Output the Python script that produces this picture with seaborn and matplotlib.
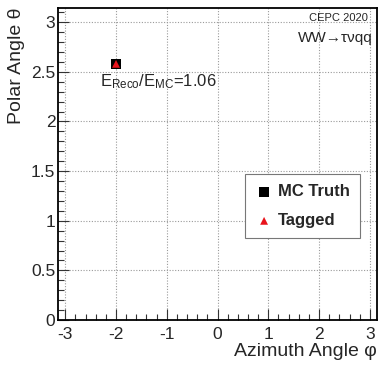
import numpy as np
import pandas as pd
import matplotlib
matplotlib.use("Agg")
import matplotlib.pyplot as plt
from matplotlib.ticker import MultipleLocator, FuncFormatter
import seaborn as sns

# Reconstructed tau direction: azimuth phi, polar theta
mc_phi = [-2.0]
mc_theta = [2.58]
tag_phi = [-2.0]
tag_theta = [2.58]
series_labels = ["MC Truth", "Tagged"]
energy_ratio = 1.06

sns.set_theme(style="white")
plt.rcParams["font.family"] = ["Liberation Sans", "DejaVu Sans"]
plt.rcParams["mathtext.fontset"] = "custom"
plt.rcParams["mathtext.rm"] = "Liberation Sans"
plt.rcParams["mathtext.it"] = "Liberation Sans:italic"

df_mc = pd.DataFrame({"phi": mc_phi, "theta": mc_theta})
df_tag = pd.DataFrame({"phi": tag_phi, "theta": tag_theta})

fig = plt.figure(figsize=(3.82, 3.67), dpi=100)
ax = fig.add_axes([0.152, 0.128, 0.835, 0.850])

sns.scatterplot(data=df_mc, x="phi", y="theta", marker="s", color="black",
                s=55, edgecolor="none", label=series_labels[0], ax=ax, zorder=3)
sns.scatterplot(data=df_tag, x="phi", y="theta", marker="^", color="#e8141c",
                s=32, edgecolor="none", label=series_labels[1], ax=ax, zorder=4)

ax.set_xlim(-np.pi, np.pi)
ax.set_ylim(0, np.pi)

ax.xaxis.set_major_locator(MultipleLocator(1))
ax.xaxis.set_minor_locator(MultipleLocator(0.2))
ax.yaxis.set_major_locator(MultipleLocator(0.5))
ax.yaxis.set_minor_locator(MultipleLocator(0.1))
ax.yaxis.set_major_formatter(FuncFormatter(lambda v, p: "%g" % v))
ax.xaxis.set_major_formatter(FuncFormatter(lambda v, p: "%d" % round(v)))

ax.tick_params(axis="both", which="major", direction="in", length=8,
               width=0.8, labelsize=12.5, color="#333333",
               bottom=True, left=True, top=False, right=False)
ax.tick_params(axis="x", which="major", pad=5)
ax.tick_params(axis="y", which="major", pad=2)
ax.tick_params(axis="both", which="minor", direction="in", length=4,
               width=0.8, color="#333333",
               bottom=True, left=True, top=False, right=False)

ax.grid(True, which="major", linestyle=(0, (1, 1.5)), color="#9a9a9a",
        linewidth=0.8)
for sp in ax.spines.values():
    sp.set_color("black")
    sp.set_linewidth(1.3)

ax.set_xlabel("Azimuth Angle φ", fontsize=14, ha="right", x=1.0,
              labelpad=1)
ax.set_ylabel("Polar Angle θ", fontsize=14, ha="right", y=1.0,
              labelpad=4)

ax.text(0.97, 0.985, "CEPC 2020", transform=ax.transAxes, ha="right",
        va="top", fontsize=8)
ax.text(0.985, 0.925, "WW→τνqq", transform=ax.transAxes, ha="right",
        va="top", fontsize=11)
ax.text(-2.32, 2.40,
        r"E$_{\mathrm{Reco}}$/E$_{\mathrm{MC}}$=" + f"{energy_ratio:.2f}",
        ha="left", va="center", fontsize=12)

leg = ax.legend(loc="upper right", bbox_to_anchor=(0.947, 0.468),
                borderaxespad=0.0, frameon=True, fancybox=False,
                edgecolor="#777777", framealpha=1, borderpad=0.6,
                handletextpad=0.3, labelspacing=0.85, handlelength=1.1,
                prop={"weight": "bold", "size": 12})
leg.get_frame().set_linewidth(0.8)

fig.savefig("out.png", dpi=100)
